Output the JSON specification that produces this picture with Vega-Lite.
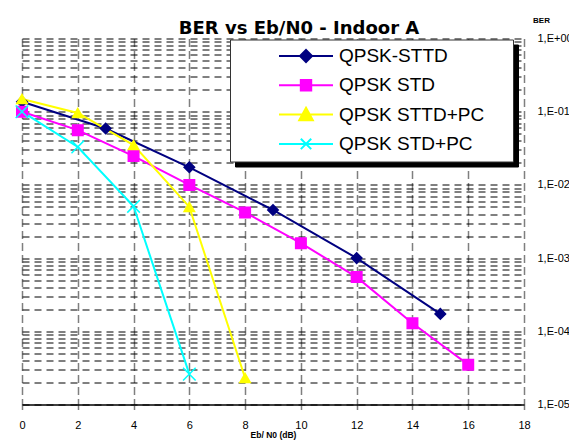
{
  "$schema": "https://vega.github.io/schema/vega-lite/v6.json",
  "width": 502,
  "height": 366,
  "autosize": "none",
  "padding": {"left": 22, "top": 38.5, "right": 45, "bottom": 43.5},
  "background": "white",
  "config": {
    "view": {"stroke": null},
    "legend": {
      "orient": "none",
      "padding": 7,
      "rowPadding": 9.3,
      "clipHeight": 19,
      "labelFont": "Liberation Sans",
      "labelFontSize": 19,
      "labelOffset": 83,
      "labelLimit": 400,
      "labelColor": "black",
      "symbolSize": 256,
      "symbolStrokeWidth": 2,
      "titleOrient": "right",
      "titleFont": "Liberation Sans",
      "titleFontSize": 8,
      "titlePadding": 19
    }
  },
  "title": {
    "text": "BER vs Eb/N0 - Indoor A",
    "font": "DejaVu Sans",
    "fontSize": 18,
    "fontWeight": "bold",
    "color": "black",
    "anchor": "middle",
    "frame": "group",
    "baseline": "alphabetic",
    "dx": 26,
    "offset": -35.5
  },
  "data": {
    "values": [
      {"series": "QPSK-STTD", "x": 0, "ber": 0.137},
      {"series": "QPSK-STTD", "x": 3, "ber": 0.059},
      {"series": "QPSK-STTD", "x": 6, "ber": 0.0174},
      {"series": "QPSK-STTD", "x": 9, "ber": 0.00454},
      {"series": "QPSK-STTD", "x": 12, "ber": 0.001},
      {"series": "QPSK-STTD", "x": 15, "ber": 0.000173},
      {"series": "QPSK STD", "x": 0, "ber": 0.1},
      {"series": "QPSK STD", "x": 2, "ber": 0.056},
      {"series": "QPSK STD", "x": 4, "ber": 0.0248},
      {"series": "QPSK STD", "x": 6, "ber": 0.01},
      {"series": "QPSK STD", "x": 8, "ber": 0.0042},
      {"series": "QPSK STD", "x": 10, "ber": 0.0016},
      {"series": "QPSK STD", "x": 12, "ber": 0.00055},
      {"series": "QPSK STD", "x": 14, "ber": 0.000129},
      {"series": "QPSK STD", "x": 16, "ber": 0.000035},
      {"series": "QPSK STTD+PC", "x": 0, "ber": 0.149},
      {"series": "QPSK STTD+PC", "x": 2, "ber": 0.096},
      {"series": "QPSK STTD+PC", "x": 4, "ber": 0.035},
      {"series": "QPSK STTD+PC", "x": 6, "ber": 0.005},
      {"series": "QPSK STTD+PC", "x": 8, "ber": 0.000023},
      {"series": "QPSK STD+PC", "x": 0, "ber": 0.1},
      {"series": "QPSK STD+PC", "x": 2, "ber": 0.033},
      {"series": "QPSK STD+PC", "x": 4, "ber": 0.0051},
      {"series": "QPSK STD+PC", "x": 6, "ber": 0.000026}
    ]
  },
  "layer": [
    {
      "mark": {"type": "line", "strokeWidth": 2},
      "encoding": {
        "x": {
          "field": "x", "type": "quantitative",
          "scale": {"domain": [0, 18], "nice": false, "zero": false},
          "axis": {
            "orient": "bottom",
            "values": [0, 2, 4, 6, 8, 10, 12, 14, 16, 18],
            "grid": true, "gridColor": "#7f7f7f", "gridDash": [8, 4], "gridWidth": 1.5,
            "domain": true, "domainColor": "black", "domainWidth": 1.5,
            "ticks": true, "tickColor": "#7f7f7f", "tickWidth": 1.5, "tickSize": 5,
            "labelPadding": 10, "labelFont": "Liberation Sans", "labelFontSize": 11, "labelColor": "black",
            "labelFlush": false, "labelOverlap": false,
            "title": "Eb/ N0 (dB)", "titleFont": "Liberation Sans", "titleFontSize": 8.5,
            "titleFontWeight": "bold", "titleColor": "black", "titlePadding": 0
          }
        },
        "y": {
          "field": "ber", "type": "quantitative",
          "scale": {"type": "log", "domain": [0.00001, 1], "nice": false},
          "axis": {
            "orient": "right",
            "values": [0.00001, 0.0001, 0.001, 0.01, 0.1, 1],
            "labelExpr": "'1,E' + (datum.value >= 1 ? '+00' : '-0' + format(-log(datum.value) / LN10, '.0f'))",
            "grid": false, "domain": false, "ticks": false,
            "labelPadding": 13, "labelFont": "Liberation Sans", "labelFontSize": 11, "labelColor": "black",
            "labelAlign": "left", "labelBaseline": "middle", "labelOverlap": false, "labelFlush": false,
            "title": "BER", "titleAngle": 0, "titleFont": "Liberation Sans", "titleFontSize": 8,
            "titleFontWeight": "bold", "titleColor": "black",
            "titleX": 17, "titleY": -18.5, "titleAlign": "center", "titleBaseline": "middle"
          }
        },
        "color": {
          "field": "series", "type": "nominal",
          "scale": {
            "domain": ["QPSK-STTD", "QPSK STD", "QPSK STTD+PC", "QPSK STD+PC"],
            "range": ["#000080", "#ff00ff", "#ffff00", "#00ffff"]
          },
          "legend": {
            "title": ".",
            "titleColor": "white",
            "legendX": 208,
            "legendY": 1,
            "padding": 7,
            "rowPadding": 9.3,
            "clipHeight": 19,
            "labelFontSize": 19,
            "labelOffset": 83,
            "fillColor": "white",
            "strokeColor": "#333333",
            "zindex": 2,
            "encode": {
              "symbols": {
                "update": {
                  "shape": {"signal": "datum.value === 'QPSK-STTD' ? 'M4.06,0L10.81,0M7.44,-0.75L8.19,0L7.44,0.75L6.69,0Z' : datum.value === 'QPSK STD' ? 'M4.06,0L10.81,0M6.79,-0.65L8.09,-0.65L8.09,0.65L6.79,0.65Z' : datum.value === 'QPSK STTD+PC' ? 'M4.06,0L10.81,0M7.44,-0.85L8.29,0.7L6.59,0.7Z' : 'M4.06,0L10.81,0M6.79,-0.65L8.09,0.65M8.09,-0.65L6.79,0.65'"},
                  "fill": {"signal": "datum.value === 'QPSK STD+PC' ? 'transparent' : scale('color', datum.value)"},
                  "stroke": {"signal": "scale('color', datum.value)"},
                  "strokeWidth": {"value": 2},
                  "size": {"value": 256},
                  "opacity": {"value": 1}
                }
              }
            }
          }
        }
      }
    },
    {
      "mark": {"type": "point", "filled": true, "size": 110, "strokeWidth": 1.5, "opacity": 1},
      "encoding": {
        "x": {"field": "x", "type": "quantitative"},
        "y": {
          "field": "ber", "type": "quantitative",
          "axis": {
            "orient": "left",
            "values": [0.00001, 0.00002, 0.00003, 0.00004, 0.00005, 0.00006, 0.00007, 0.00008, 0.00009,
                       0.0001, 0.0002, 0.0003, 0.0004, 0.0005, 0.0006, 0.0007, 0.0008, 0.0009,
                       0.001, 0.002, 0.003, 0.004, 0.005, 0.006, 0.007, 0.008, 0.009,
                       0.01, 0.02, 0.03, 0.04, 0.05, 0.06, 0.07, 0.08, 0.09,
                       0.1, 0.2, 0.3, 0.4, 0.5, 0.6, 0.7, 0.8, 0.9, 1],
            "grid": true, "gridColor": "black", "gridDash": [7, 5], "gridWidth": 1,
            "labels": false, "ticks": false, "domain": false, "title": null
          }
        },
        "color": {"field": "series", "type": "nominal"},
        "stroke": {
          "field": "series", "type": "nominal",
          "scale": {
            "domain": ["QPSK-STTD", "QPSK STD", "QPSK STTD+PC", "QPSK STD+PC"],
            "range": ["#000080", "#ff00ff", "#ffff00", "#00ffff"]
          },
          "legend": null
        },
        "shape": {
          "field": "series", "type": "nominal",
          "scale": {
            "domain": ["QPSK STD+PC", "QPSK STTD+PC", "QPSK STD", "QPSK-STTD"],
            "range": ["M-1.2,-1.2L1.2,1.2M1.2,-1.2L-1.2,1.2", "triangle-up", "square", "diamond"]
          },
          "legend": {
            "title": ".",
            "titleColor": "black",
            "legendX": 213,
            "legendY": 6,
            "padding": 7,
            "rowPadding": 9.3,
            "clipHeight": 19,
            "labelFontSize": 19,
            "labelOffset": 83,
            "fillColor": "black",
            "strokeColor": "black",
            "zindex": 1,
            "labelColor": "black",
            "encode": {
              "symbols": {
                "update": {
                  "shape": {"value": "M4.06,0L10.81,0"},
                  "fill": {"value": "black"},
                  "stroke": {"value": "black"},
                  "strokeWidth": {"value": 2},
                  "size": {"value": 256},
                  "opacity": {"value": 1}
                }
              }
            }
          }
        }
      }
    }
  ],
  "resolve": {"axis": {"y": "independent"}}
}
